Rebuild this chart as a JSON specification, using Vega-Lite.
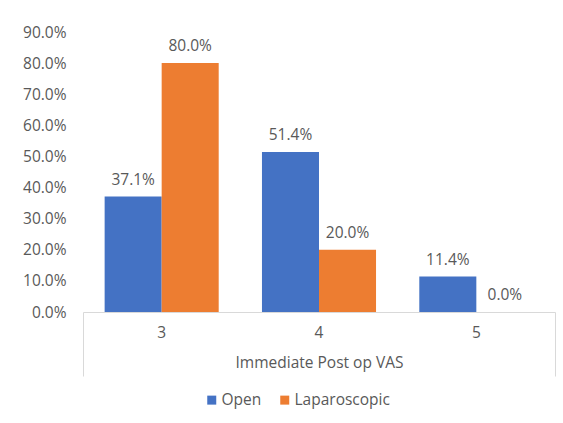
{
  "$schema": "https://vega.github.io/schema/vega-lite/v6.json",
  "width": 472,
  "height": 280,
  "autosize": {"type": "none"},
  "padding": {"left": 83, "top": 32, "right": 8, "bottom": 111},
  "background": "white",
  "config": {
    "view": {"stroke": null},
    "font": "Open Sans",
    "axis": {"labelColor": "#595959", "titleColor": "#595959", "labelFont": "Open Sans", "titleFont": "Open Sans"},
    "legend": {"labelColor": "#595959", "labelFont": "Open Sans"}
  },
  "data": {
    "values": [
      {"vas": "3", "group": "Open", "pct": 0.371},
      {"vas": "3", "group": "Laparoscopic", "pct": 0.8},
      {"vas": "4", "group": "Open", "pct": 0.514},
      {"vas": "4", "group": "Laparoscopic", "pct": 0.2},
      {"vas": "5", "group": "Open", "pct": 0.114},
      {"vas": "5", "group": "Laparoscopic", "pct": 0.0}
    ]
  },
  "layer": [
    {
      "encoding": {
        "x": {
          "field": "vas", "type": "nominal",
          "scale": {"paddingInner": 0.275, "paddingOuter": 0.1375},
          "axis": {
            "orient": "bottom",
            "title": "Immediate Post op VAS", "labelAngle": 0, "labelFontSize": 15.5,
            "labelPadding": 13, "ticks": false, "domainColor": "#d9d9d9",
            "titleFontSize": 15.5, "titleFontWeight": "normal", "titlePadding": 15
          }
        },
        "xOffset": {"field": "group", "sort": ["Open", "Laparoscopic"], "scale": {"paddingInner": 0}},
        "y": {
          "field": "pct", "type": "quantitative",
          "scale": {"domain": [0, 0.9]},
          "axis": {
            "format": ".1%", "values": [0, 0.1, 0.2, 0.3, 0.4, 0.5, 0.6, 0.7, 0.8, 0.9],
            "labelOverlap": false,
            "grid": false, "domain": false, "ticks": false, "labelPadding": 17,
            "labelFontSize": 15.5, "title": null
          }
        }
      },
      "layer": [
        {
          "mark": {"type": "bar"},
          "encoding": {
            "color": {
              "field": "group", "type": "nominal",
              "scale": {"domain": ["Open", "Laparoscopic"], "range": ["#4472C4", "#ED7D31"]},
              "legend": {
                "title": null, "orient": "none", "direction": "horizontal",
                "legendX": 121, "legendY": 360,
                "symbolType": "square", "symbolSize": 81, "symbolStrokeWidth": 0,
                "labelFontSize": 15.5, "labelOffset": 2, "columnPadding": 15
              }
            }
          }
        },
        {
          "mark": {"type": "text", "baseline": "middle", "dy": -17, "fontSize": 15.5, "color": "#595959"},
          "encoding": {
            "text": {"field": "pct", "type": "quantitative", "format": ".1%"}
          }
        }
      ]
    },
    {
      "mark": {"type": "point", "opacity": 0},
      "encoding": {
        "x": {
          "datum": 0, "type": "quantitative",
          "scale": {"domain": [0, 1]},
          "axis": {
            "orient": "bottom",
            "values": [0, 1], "labels": false, "domain": false, "grid": false,
            "tickSize": 64, "tickColor": "#d9d9d9", "title": null
          }
        }
      }
    }
  ],
  "resolve": {"scale": {"x": "independent"}, "axis": {"x": "independent"}}
}
